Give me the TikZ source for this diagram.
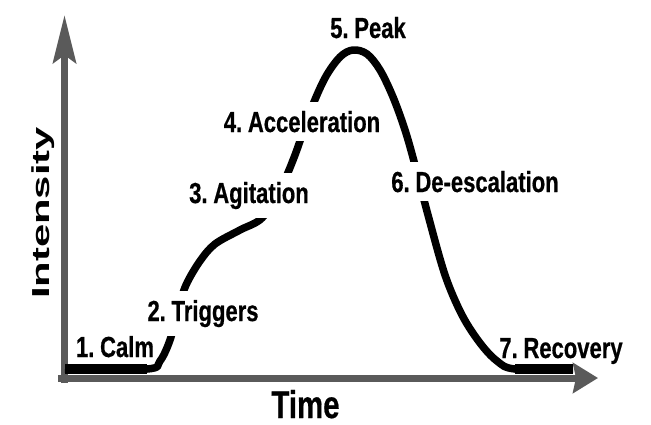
\documentclass[tikz,border=0pt]{standalone}
\usepackage{fontspec}
\setmainfont{Liberation Sans}
\newfontfamily\narrowsans{Liberation Sans}[FakeStretch=0.76, WordSpace=0.6, FakeBold=0.6]
\usetikzlibrary{arrows.meta}

\definecolor{axisgray}{HTML}{5A5A5A}
\tikzset{
  eje/.style={line width=0.14cm, draw=axisgray},
  curva/.style={line width=0.15cm, black},
  etapa/.style={font=\narrowsans\bfseries\fontsize{16.5}{18}\selectfont, anchor=base, inner sep=0pt},
  hueco/.style={fill=white, inner sep=5pt},
}

\begin{document}
\begin{tikzpicture}[x=0.02cm, y=0.02cm]
    \useasboundingbox (0,0) rectangle (651,424);

    % Ejes
    \draw[eje, -{Stealth[length=0.96cm, width=0.46cm, inset=0.16cm, fill=axisgray]}] (64.5,41) -- (64.5,409);
    \draw[eje, -{Stealth[length=0.5cm, width=0.6cm, inset=0.06cm, fill=axisgray]}] (58,46) -- (598,46);

    % Curva de intensidad
    \draw[curva] plot[smooth, tension=0.55] coordinates {
        (65,55) (147,55) (160,63) (170,84) (178,114) (186,139) (200,163)
        (215,180) (240,194) (262,206) (280,234) (295,269) (310,312)
        (325,346) (340,367) (353,374) (367,370) (380,354) (393,327)
        (405,294) (415,259) (428,209) (445,149) (462,109) (480,81)
        (497,63) (515,55) (573,55)};

    % Tramos planos, mas gruesos
    \draw[curva, line width=0.19cm] (65,55) -- (147,55);
    \draw[curva, line width=0.19cm] (515,55) -- (573,55);

    % Etapas
    \node[etapa] (calma) at (115,67) {1. Calm};
    \node[etapa, hueco] (disparadores) at (203,103) {2. Triggers};
    \node[etapa, hueco] (agitacion) at (249,221) {3. Agitation};
    \node[etapa, hueco] (aceleracion) at (302,292) {4. Acceleration};
    \node[etapa] (pico) at (368,386) {5. Peak};
    \node[etapa, hueco] (desescalada) at (475,232) {6. De-escalation};
    \node[etapa] (recuperacion) at (561,66) {7. Recovery};

    % Rotulos de los ejes
    \node[etapa, font=\narrowsans\bfseries\fontsize{22}{24}\selectfont] (tiempo) at (305.5,6) {Time};
    \node[rotate=90, anchor=base, inner sep=0pt, font=\bfseries\fontsize{14}{16}\selectfont] (intensidad) at (49,211) {\scalebox{1.7}[1]{Intensity}};

\end{tikzpicture}
\end{document}
